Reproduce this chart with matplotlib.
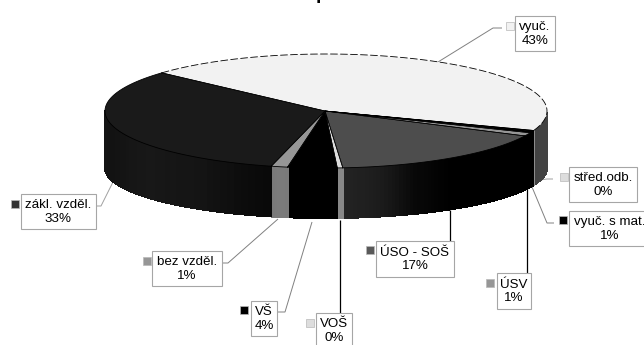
import numpy as np
import matplotlib
matplotlib.use("Agg")
import matplotlib.pyplot as plt
from matplotlib.patches import Polygon, Rectangle

# Data, clockwise from the back left of the pie
names = ["vyuč.", "střed.odb.", "vyuč. s mat.", "ÚSV", "ÚSO - SOŠ", "VOŠ", "VŠ", "bez vzděl.", "zákl. vzděl."]
label_pct = [43, 0, 1, 1, 17, 0, 4, 1, 33]
shares = [43.9, 0.15, 0.55, 0.95, 16.6, 0.4, 3.6, 1.2, 32.7]

# Styles
top_colors = ["#f2f2f2", "#dddddd", "#000000", "#969696", "#4d4d4d", "#dddddd", "#000000", "#969696", "#1a1a1a"]
key_colors = ["#f2f2f2", "#dddddd", "#000000", "#969696", "#595959", "#dddddd", "#000000", "#969696", "#333333"]
# grey levels of the side wall along each slice, clockwise
side_shades = [
    [0x40, 0x48, 0x42],
    [0x8c, 0x8c],
    [0x00, 0x00],
    [0x00, 0x00],
    [0x00, 0x00, 0x00, 0x00, 0x08, 0x1c, 0x24],
    [0x88, 0x88],
    [0x00, 0x00],
    [0x7a, 0x7c, 0x78],
    [0x08, 0x14, 0x18, 0x12, 0x16, 0x0e, 0x12],
]

# Pie geometry in pixels
cx, rx = 326, 221
top_cy, top_ry = 111, 57
bot_cy, bot_ry = 168, 50
start_angle = 138

# Label layout in pixels: box x0, y0, x1, y1, key x, key y and leader path
boxes = [(515, 16, 555, 51), (569, 167, 637, 202), (569, 211, 650, 246), (497, 273, 531, 309),
         (376, 241, 454, 277), (316, 313, 352, 348), (251, 301, 277, 336), (152, 251, 222, 286), (21, 194, 96, 229)]
keys = [(510, 26), (564, 177), (563, 220), (490, 283), (370, 250), (310, 323), (244, 310), (147, 261), (15, 204)]
leaders = [
    [(438, 62), (493, 28), (502, 28)],
    [(533, 181), (547, 179), (553, 179)],
    [(532, 187), (547, 223), (554, 223)],
    [(527, 187), (527, 273)],
    [(450, 210), (450, 241)],
    [(340, 220), (340, 313)],
    [(312, 222), (285, 312), (278, 312)],
    [(278, 219), (228, 263), (222, 263)],
    [(113, 182), (101, 206), (96, 206)],
]
leader_colors = ["#808080", "#a0a0a0", "#808080", "#000000", "#000000", "#000000", "#808080", "#808080", "#a0a0a0"]


def ring(t, cy, ry):
    t = np.radians(t)
    return np.column_stack([cx + rx * np.cos(t), cy - ry * np.sin(t)])


fig = plt.figure(figsize=(6.44, 3.45), dpi=100)
ax = fig.add_axes([0, 0, 1, 1])
ax.set_xlim(0, 644)
ax.set_ylim(345, 0)
ax.axis("off")

sweeps = np.array(shares) / sum(shares) * 360
ends = start_angle - np.cumsum(sweeps)
starts = ends + sweeps

# Side wall, only the part facing the viewer
for a0, a1, shades in zip(starts, ends, side_shades):
    hi = a0 % 360
    lo = a1 % 360
    if hi < lo:
        hi += 360
    ts = np.linspace(lo, hi, 60)
    for t0, t1 in zip(ts[:-1], ts[1:]):
        mid = (t0 + t1) / 2
        if not 180 <= mid % 360 <= 360:
            continue
        frac = (hi - mid) / (hi - lo)
        g = np.interp(frac, np.linspace(0, 1, len(shades)), shades) / 255
        pts = np.vstack([ring(np.array([t0, t1]), top_cy, top_ry), ring(np.array([t1, t0]), bot_cy, bot_ry)])
        ax.add_patch(Polygon(pts, closed=True, facecolor=(g, g, g), edgecolor=(g, g, g), lw=0.8,
                             antialiased=False, zorder=2))

# Top face
for i, (a0, a1, color) in enumerate(zip(starts, ends, top_colors)):
    arc = ring(np.linspace(a0, a1, 120), top_cy, top_ry)
    pts = np.vstack([[cx - 1, top_cy], arc])
    ax.add_patch(Polygon(pts, closed=True, facecolor=color, edgecolor="none", zorder=3))
    # back rim of the light slice looks broken up, the rest is solid
    ax.plot(arc[:, 0], arc[:, 1], color="#000000", lw=0.6, zorder=3.5, ls=(0, (9, 3)) if i == 0 else "-")
    ax.plot([arc[0, 0], cx - 1, arc[-1, 0]], [arc[0, 1], top_cy, arc[-1, 1]], color="#000000", lw=0.5, zorder=3.5)

# Leaders, label boxes and colour keys
for pts, color in zip(leaders, leader_colors):
    xs, ys = zip(*pts)
    ax.plot(xs, ys, color=color, lw=0.9 if color == "#000000" else 0.7, zorder=1, solid_capstyle="butt")

for name, pct, box, key, color in zip(names, label_pct, boxes, keys, key_colors):
    x0, y0, x1, y1 = box
    ax.add_patch(Rectangle((x0, y0), x1 - x0, y1 - y0, facecolor="white", edgecolor="#a6a6a6", lw=0.8, zorder=4))
    ax.text((x0 + x1) / 2, (y0 + y1) / 2 + 0.5, f"{name}\n{pct}%", ha="center", va="center", zorder=5,
            fontsize=9.65, family="Liberation Sans", color="#000000", linespacing=1.12)
    ax.add_patch(Rectangle((key[0] - 4, key[1] - 4), 8, 8, facecolor=color, edgecolor="#b8b8b8", lw=0.5, zorder=4))

# Title is cut off by the top edge in the source, only a descender shows
ax.text(322, -1, "p", ha="center", va="baseline", fontsize=14, fontweight="bold", family="Liberation Sans")

fig.savefig("out.png", dpi=100)
